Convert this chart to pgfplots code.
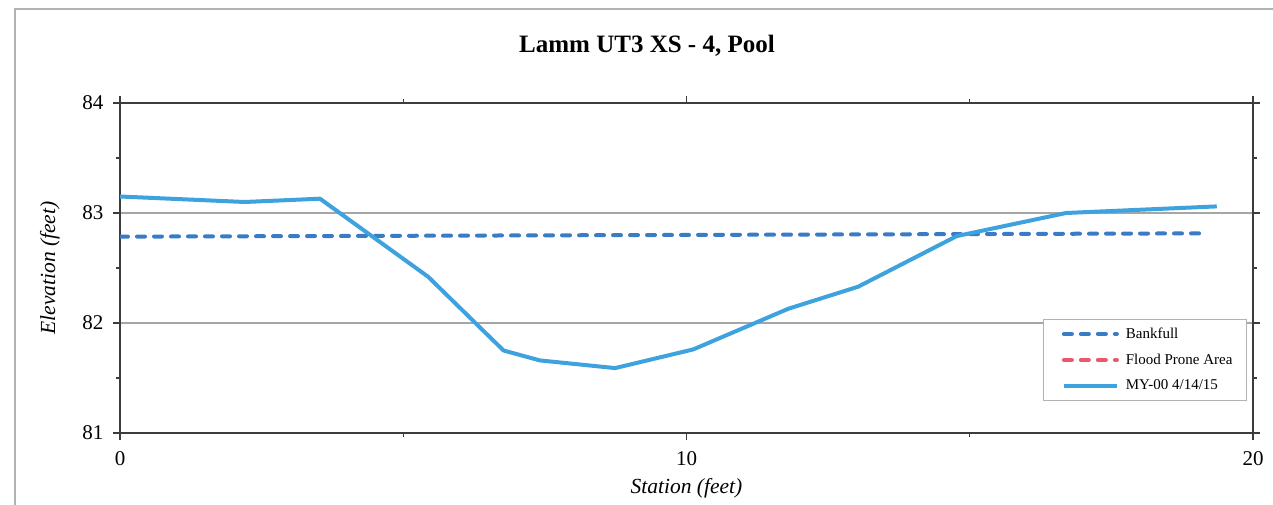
\documentclass[border=0pt]{standalone}
\usepackage{fontspec}
\setmainfont{Liberation Serif}
\usepackage{pgfplots}
\pgfplotsset{compat=1.18}
\definecolor{bankblue}{HTML}{3A7BC6}
\definecolor{mycyan}{HTML}{3DA2DE}
\definecolor{floodred}{HTML}{E8586E}
\definecolor{axisgray}{HTML}{3C3C3C}
\begin{document}
\begin{tikzpicture}[x=1pt,y=1pt]
\useasboundingbox (0pt,0pt) rectangle (1273pt,505pt);
\draw[gray!60, line width=1.2pt] (15pt,0pt) -- (15pt,496pt) -- (1273pt,496pt);
\node[font=\fontsize{25}{30}\selectfont\bfseries] at (647pt,459pt) {Lamm UT3 XS - 4, Pool};
\begin{axis}[
  at={(120pt,72pt)}, anchor=south west,
  scale only axis, width=1133pt, height=330pt,
  xmin=0, xmax=20, ymin=81, ymax=84,
  xtick={0,10,20}, ytick={81,82,83,84},
  minor xtick={5,15}, minor ytick={81.5,82.5,83.5},
  tick align=outside,
  major tick length=7pt, minor tick length=4pt,
  every tick/.style={axisgray, line width=1.2pt},
  axis line style={axisgray, line width=2.2pt},
  ymajorgrids, grid style={gray!70, line width=1.3pt},
  /pgf/number format/assume math mode=true,
  tick label style={font=\fontsize{21}{24}\selectfont},
  yticklabel style={xshift=-6pt},
  xticklabel style={yshift=-8pt},
  xlabel={\itshape Station (feet)},
  ylabel={\itshape Elevation (feet)},
  label style={font=\fontsize{21.5}{25}\selectfont},
  xlabel style={at={(axis description cs:0.5,-0.167)}, anchor=center},
  ylabel style={at={(axis description cs:-0.062,0.5)}, anchor=center},
  legend style={at={(axis description cs:0.9947,0.097)}, anchor=south east,
    draw=gray!60, line width=1pt, font=\fontsize{15}{17}\selectfont,
    inner xsep=12pt, inner ysep=7pt, row sep=10pt},
  legend cell align=left,
  legend image code/.code={\path (0pt,0pt) (64pt,0pt); \draw[#1] (6pt,0pt) -- (59pt,0pt);},
]
\addplot[bankblue, line width=4pt, line cap=round, dash pattern=on 8pt off 9pt] coordinates {(0,82.785) (19.2,82.815)};
\addlegendentry{Bankfull}
\addlegendimage{floodred, line width=4pt, line cap=round, dash pattern=on 8pt off 9pt}
\addlegendentry{Flood Prone Area}
\addplot[mycyan, line width=4pt, line join=round] coordinates {
(0,83.15) (2.2,83.10) (3.53,83.13) (5.44,82.42) (6.77,81.75) (7.41,81.66)
(8.74,81.59) (10.12,81.76) (11.8,82.13) (13.03,82.33) (14.77,82.79)
(16.7,83.0) (19.36,83.06)};
\addlegendentry{MY-00 4/14/15}
\end{axis}
\end{tikzpicture}
\end{document}
